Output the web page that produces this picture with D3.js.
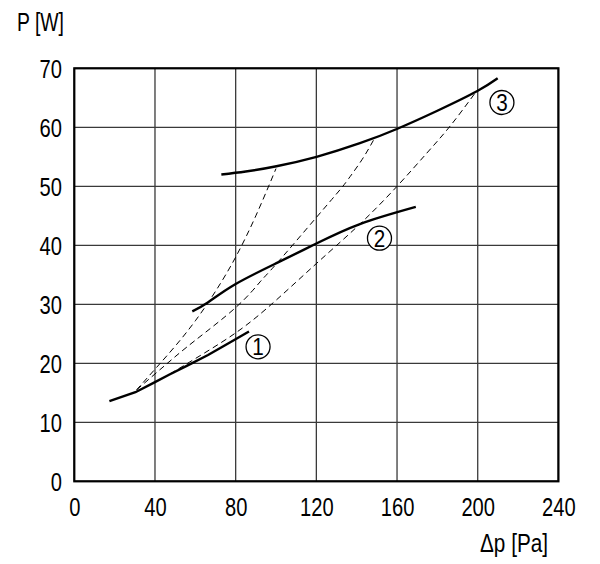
<!DOCTYPE html>
<html><head><meta charset="utf-8">
<script src="https://cdn.jsdelivr.net/npm/d3@7"></script>
<style>
body{margin:0;background:#fff;}
text{font-family:"Liberation Sans",Arial,sans-serif;fill:#000;}
</style></head>
<body><svg id="c" width="600" height="564"></svg>
<script>
const xTicks=[0,40,80,120,160,200,240];
const yTicks=[0,10,20,30,40,50,60,70];
const curve1=[[17.4,13.6],[30.3,15.1],[40,16.8],[47.2,18.1],[56,19.6],[66.3,21.4],[75.4,23.2],[86.6,25.4]];
const curve2=[[58.5,28.8],[66.2,30.3],[79.8,33.4],[101,37.1],[120,40.3],[141.6,43.6],[169.3,46.5]];
const curve3=[[72.9,52.0],[85,52.5],[100.2,53.4],[120.1,55.0],[141.6,57.3],[160.5,59.8],[180,62.8],[199.6,66.1],[209.9,68.3]];
const dashA=[[30.9,15.5],[40,19.0],[50,22.9],[60,27.2],[70,32.2],[80,38.0],[90,45.0],[100,53.0]];
const dashB=[[30.9,15.5],[45.8,19.9],[60,23.9],[80.5,29.6],[92.1,33.8],[100.3,36.9],[120.2,44.8],[131.7,49.4],[136,51.3],[142.6,54.5],[148.3,57.8]];
const dashC=[[47.5,18.2],[60,20.8],[77.2,24.5],[95.4,29.3],[120,36.9],[141.6,43.6],[160,50],[174.7,55.6],[186.3,60.2],[198.7,65.8]];
const labels=[{t:"1",x:91.1,y:22.8},{t:"2",x:151.3,y:41.2},{t:"3",x:212,y:64.2}];

const FONT='"Liberation Sans",Arial,sans-serif';
const svg=d3.select("#c");
const x=d3.scaleLinear().domain([0,240]).range([74.3,558.4]);
const y=d3.scaleLinear().domain([0,70]).range([481.3,68.3]);

const g=svg.append("g");
g.selectAll(".vg").data(xTicks).join("line")
 .attr("x1",d=>x(d)).attr("x2",d=>x(d)).attr("y1",y(0)).attr("y2",y(70))
 .attr("stroke","#3a3a3a").attr("stroke-width",1.3);
g.selectAll(".hg").data(yTicks).join("line")
 .attr("y1",d=>y(d)).attr("y2",d=>y(d)).attr("x1",x(0)).attr("x2",x(240))
 .attr("stroke","#3a3a3a").attr("stroke-width",1.3);
g.append("rect").attr("x",x(0)).attr("y",y(70)).attr("width",x(240)-x(0)).attr("height",y(0)-y(70))
 .attr("fill","none").attr("stroke","#000").attr("stroke-width",2.2);

const xa=svg.append("g").attr("transform",`translate(0,${y(0)})`)
 .call(d3.axisBottom(x).tickValues(xTicks).tickSize(0).tickPadding(17).tickFormat(d3.format("d")));
const ya=svg.append("g").attr("transform",`translate(${x(0)},0)`)
 .call(d3.axisLeft(y).tickValues(yTicks).tickSize(0).tickPadding(12.3).tickFormat(d3.format("d")));
[xa,ya].forEach(a=>{a.select(".domain").remove();
 a.selectAll("text").attr("font-size",25).attr("fill","#000").attr("font-family",FONT)
  .attr("lengthAdjust","spacingAndGlyphs").attr("textLength",function(){return this.textContent.length*11.2;});});
ya.selectAll("text").attr("dy","0.38em");

svg.append("text").attr("x",17).attr("y",31).attr("font-size",25)
 .attr("lengthAdjust","spacingAndGlyphs").attr("textLength",47).text("P [W]");
svg.append("text").attr("x",480).attr("y",552).attr("font-size",25)
 .attr("lengthAdjust","spacingAndGlyphs").attr("textLength",68).text("Δp [Pa]");

const line=d3.line().x(d=>x(d[0])).y(d=>y(d[1]));
const smooth=d3.line().x(d=>x(d[0])).y(d=>y(d[1])).curve(d3.curveNatural);
[dashA,dashB,dashC].forEach(d=>{
 svg.append("path").attr("d",smooth(d)).attr("fill","none").attr("stroke","#000")
  .attr("stroke-width",1).attr("stroke-dasharray","6,4");
});
svg.append("path").attr("d",line(curve1)).attr("fill","none").attr("stroke","#000").attr("stroke-width",2.4);
[curve2,curve3].forEach(d=>{
 svg.append("path").attr("d",smooth(d)).attr("fill","none").attr("stroke","#000").attr("stroke-width",2.4);
});
const lg=svg.selectAll(".lbl").data(labels).join("g").attr("transform",d=>`translate(${x(d.x)},${y(d.y)})`);
lg.append("circle").attr("r",12).attr("fill","#fff").attr("stroke","#000").attr("stroke-width",1.3);
lg.append("text").attr("text-anchor","middle").attr("dy","0.36em").attr("font-size",24)
 .attr("lengthAdjust","spacingAndGlyphs").attr("textLength",11.5).text(d=>d.t);
</script></body></html>
